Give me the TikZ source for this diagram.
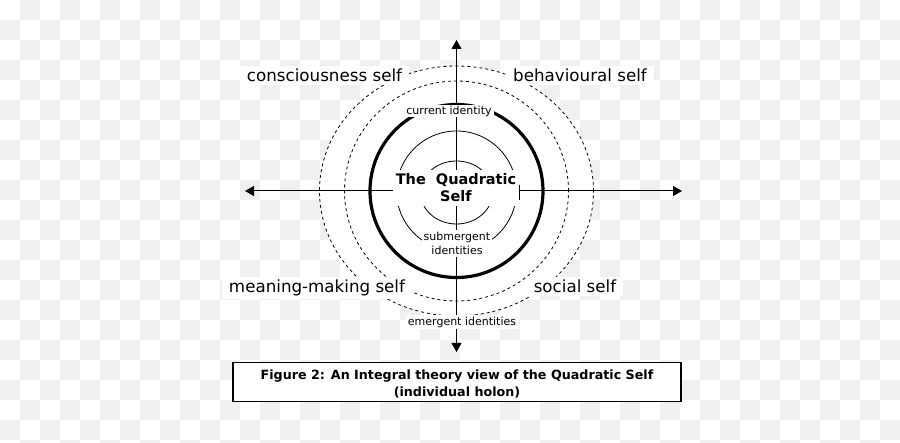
\documentclass[tikz,border=0pt]{standalone}
\usepackage{fontspec}
\setmainfont{DejaVu Sans}
\usetikzlibrary{arrows.meta}

\definecolor{chk}{RGB}{240,240,240}

\begin{document}
\begin{tikzpicture}[x=1pt,y=-1pt,
  self/.style={fill=white,inner xsep=7pt,inner ysep=3pt,anchor=base,font=\fontsize{16.7}{20}\selectfont},
  ident/.style={fill=white,inner xsep=2pt,inner ysep=1pt,align=center,font=\fontsize{11}{14}\selectfont},
  ax/.style={line width=1pt,-{Triangle[length=9pt,width=10pt]}},
  ring/.style={line width=0.8pt,dash pattern=on 3pt off 3pt}]

\useasboundingbox (0,0) rectangle (900,443);
\clip (0,0) rectangle (900,443);

% checker background
\fill[white] (0,0) rectangle (900,443);
\foreach \i in {0,...,44}
  \foreach \j in {0,...,22}
    {\ifodd\numexpr\i+\j\relax \fill[chk] (\i*20,\j*20) rectangle ++(20,20); \fi}

\coordinate (v0) at (456.5,191);

% rings
\fill[white] (v0) ellipse [x radius=137pt, y radius=125pt];
\draw[ring] (v0) ellipse [x radius=137pt, y radius=125pt];
\draw[ring] (v0) ellipse [x radius=112pt, y radius=110pt];
\draw[line width=0.8pt] (v0) circle [radius=60pt];
\draw[line width=0.8pt] (456.5,192.5) ellipse [x radius=36pt, y radius=31.5pt];
\draw[line width=3.2pt] (v0) circle [radius=86.5pt];

\node[fill=white,inner sep=0pt,minimum width=126pt,minimum height=36pt,align=center,
  font=\bfseries\fontsize{14.5}{17}\selectfont] (q) at (456,188) {The\ \ Quadratic\\Self};

\coordinate (a1) at (456.5,40);
\coordinate (a2) at (682,191);
\coordinate (a3) at (245,191);
\coordinate (a4) at (456.5,352);

\draw [ax] (q.north -| v0) -- (a1);
\draw [ax] (q.east |- v0) -- (a2);
\draw [ax] (q.west |- v0) -- (a3);
\draw [ax] (q.south -| v0) -- (a4);
\coordinate (t) at (q.east |- v0);
\draw [line width=1pt] (t) ++(0,-6) -- ++(0,15);

\node[ident] (i1) at (449,111) {current identity};
\node[ident,inner ysep=2pt] (i2) at (457,243.5) {submergent\\identities};
\node[ident,inner ysep=2pt] (i3) at (462,322) {emergent identities};

\node[self] (s1) at (324.5,81.7) {consciousness self};
\node[self] (s2) at (580,81.7) {behavioural self};
\node[self] (s3) at (317,292.7) {meaning-making self};
\node[self] (s4) at (575,292.7) {social self};

\node[draw,fill=white,line width=1.2pt,inner sep=0pt,minimum width=448pt,minimum height=39.4pt,align=center,
  font=\bfseries\fontsize{12.7}{16.5}\selectfont] (f) at (457,382)
  {\rule{0pt}{14pt}Figure 2: An Integral theory view of the Quadratic Self\\(individual holon)};

\end{tikzpicture}
\end{document}
